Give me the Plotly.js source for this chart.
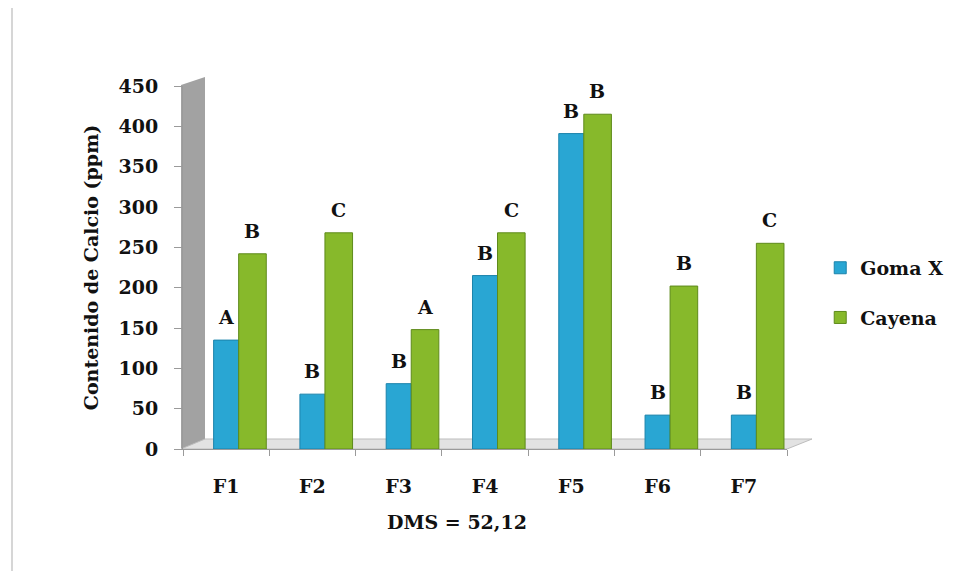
<!DOCTYPE html>
<html>
<head>
<meta charset="utf-8">
<script src="https://cdn.plot.ly/plotly-3.0.1.min.js"></script>
<style>html,body{margin:0;padding:0;background:#fff;}#chart{width:960px;height:571px;}</style>
</head>
<body>
<div id="chart"></div>
<script>
var categories = ["F1", "F2", "F3", "F4", "F5", "F6", "F7"];
var gomaX = [135, 68, 81, 215, 391, 42, 42];
var cayena = [242, 268, 148, 268, 415, 202, 255];
var gomaLetters = ["A", "B", "B", "B", "B", "B", "B"];
var cayenaLetters = ["B", "C", "A", "C", "B", "B", "C"];
var yTicks = [0, 50, 100, 150, 200, 250, 300, 350, 400, 450];

var serif = "DejaVu Serif, serif";
function f(size) { return {family: serif, size: size, color: "#111", weight: "bold"}; }

var traces = [
  {type: "bar", name: "Goma X", x: categories, y: gomaX,
   offset: -0.145, width: 0.29, legendgroup: "g1",
   marker: {color: "#29a6d3", line: {color: "#1b83ab", width: 1}}},
  {type: "bar", name: "Cayena", x: categories, y: cayena,
   offset: 0.145, width: 0.32, legendgroup: "g2",
   marker: {color: "#87b92b", line: {color: "#5e8a1b", width: 1}}}
];

var annotations = [];
for (var i = 0; i < categories.length; i++) {
  annotations.push({x: categories[i], y: gomaX[i], text: gomaLetters[i], showarrow: false,
    xref: "x", yref: "y", yanchor: "bottom", yshift: 10, xshift: 0, font: f(19)});
  annotations.push({x: categories[i], y: cayena[i], text: cayenaLetters[i], showarrow: false,
    xref: "x", yref: "y", yanchor: "bottom", yshift: 10, xshift: 26, font: f(19)});
}
annotations.push({xref: "paper", yref: "paper", x: 0.454, y: -0.237, text: "DMS = 52,12",
  showarrow: false, font: f(19)});

function px(xp) { return (xp - 183) / 604; }
function py(yp) { return (449 - yp) / 363; }

var shapes = [
  // left border line of the picture
  {type: "line", xref: "paper", yref: "paper", layer: "below",
   x0: px(12), x1: px(12), y0: py(8), y1: py(571), line: {color: "#c8c8c8", width: 1.5}},
  // back wall strip
  {type: "path", xref: "paper", yref: "paper", layer: "below",
   path: "M " + px(181) + "," + py(449) + " L " + px(181) + "," + py(85) + " L " + px(205) + "," + py(77) +
         " L " + px(205) + "," + py(441) + " Z",
   fillcolor: "#a2a2a2", line: {width: 0}},
  // floor
  {type: "path", xref: "paper", yref: "paper", layer: "below",
   path: "M " + px(181) + "," + py(449) + " L " + px(787) + "," + py(449) + " L " + px(812) + "," + py(439) +
         " L " + px(205) + "," + py(439) + " Z",
   fillcolor: "#e2e2e2", line: {color: "#bdbdbd", width: 1}}
];

var layout = {
  width: 960, height: 571,
  margin: {l: 183, r: 173, t: 86, b: 122},
  paper_bgcolor: "#ffffff",
  plot_bgcolor: "rgba(0,0,0,0)",
  showlegend: true,
  legend: {x: 1.055, y: 0.43, xanchor: "left", yanchor: "middle",
    font: f(19), traceorder: "grouped", tracegroupgap: 22,
    bgcolor: "rgba(0,0,0,0)"},
  xaxis: {type: "category", range: [-0.5, 6.5], showgrid: false, zeroline: false,
    showline: true, linecolor: "#9a9a9a", linewidth: 1,
    ticks: "outside", tickson: "boundaries", ticklen: 6, tickcolor: "#9a9a9a",
    ticklabelstandoff: 20, tickfont: f(19)},
  yaxis: {range: [0, 450], tickvals: yTicks, showgrid: false, zeroline: false,
    showline: true, linecolor: "#9a9a9a", linewidth: 1,
    ticks: "outside", ticklen: 8, tickcolor: "#9a9a9a",
    ticklabelstandoff: 12, tickfont: f(19),
    title: {text: "Contenido de Calcio (ppm)", standoff: 14, font: f(19)}},
  annotations: annotations,
  shapes: shapes
};

Plotly.newPlot("chart", traces, layout, {displayModeBar: false, staticPlot: true});
</script>
</body>
</html>
